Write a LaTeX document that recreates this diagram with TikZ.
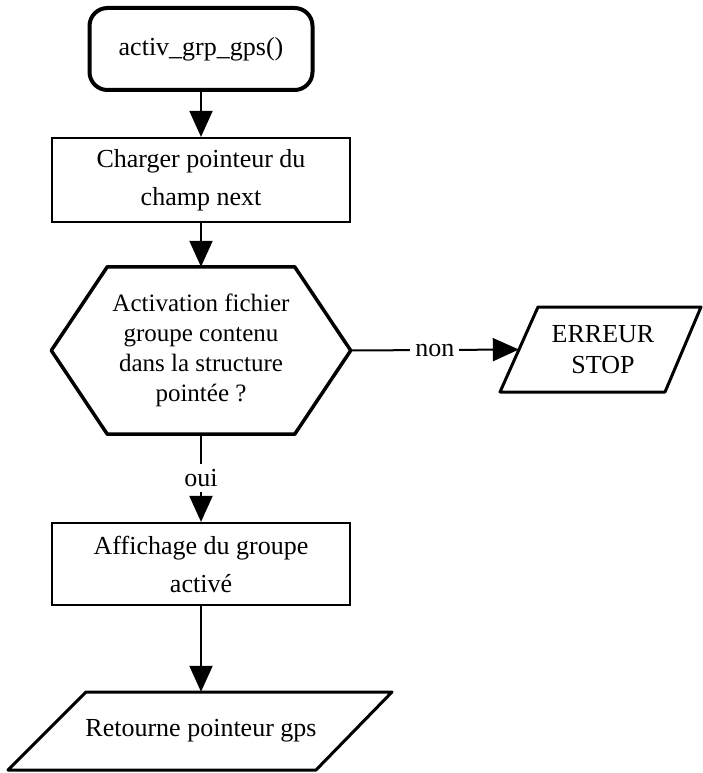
\documentclass[tikz,border=0pt]{standalone}
\usepackage{fontspec}
\setmainfont{Liberation Serif}
\usetikzlibrary{arrows.meta}
\tikzset{
  startbox/.style = {draw, line width = 4pt, rounded corners = 18pt, minimum width = 223pt, minimum height = 82pt, font = \fontsize{26}{30}\selectfont},
  actionbox/.style = {draw, line width = 2.2pt, minimum width = 298pt, minimum height = 84pt, align = center, font = \fontsize{26}{38}\selectfont},
  testbox/.style = {inner sep = 0pt, minimum width = 299pt, minimum height = 167pt, align = center, font = \fontsize{25}{30}\selectfont},
  iobox/.style = {inner sep = 0pt, align = center, font = \fontsize{26}{31}\selectfont},
  outline/.style = {line width = 3pt, line join = round},
  flow/.style = {line width = 2pt, -{Triangle[width = 23pt, length = 26pt]}},
  answer/.style = {fill = white, inner sep = 5pt, font = \fontsize{26}{30}\selectfont}
}

\begin{document}
\begin{tikzpicture}[x = 1pt, y = -1pt]
\useasboundingbox (0,0) rectangle (703,773);

\node at (201,49) (start) [startbox] {activ\_grp\_gps()};
\node at (201,180) (charge) [actionbox] {Charger pointeur du\\champ next};

% test hexagon
\node at (201,350.5) (test) [testbox] {Activation fichier\\groupe contenu\\dans la structure\\pointée ?};
\draw[outline, line width = 3.5pt] (test.west) -- ([xshift = 56pt]test.north west) -- ([xshift = -56pt]test.north east) -- (test.east) -- ([xshift = -56pt]test.south east) -- ([xshift = 56pt]test.south west) -- cycle;

% error exit
\node at (603,349.5) (err) [iobox, minimum width = 168pt, minimum height = 85pt] {ERREUR\\STOP};
\draw[outline] (500,392) -- (665,392) -- (701,307) -- (538,307) -- cycle;

\node at (201,564) (affich) [actionbox, minimum height = 82pt] {Affichage du groupe\\activé};

% return
\node at (201,731) (ret) [iobox, minimum width = 230pt, minimum height = 78pt] {Retourne pointeur gps};
\draw[outline] (8,770) -- (316,770) -- (392,692) -- (86,692) -- cycle;

\draw[flow] (start) -- (charge);
\draw[flow] (charge) -- (test);
\draw[flow] (test) -- node[answer] {oui} (affich);
\draw[flow] (test.east) -- node[answer] {non} (err.west);
\draw[flow] (affich) -- (ret);
\end{tikzpicture}
\end{document}
